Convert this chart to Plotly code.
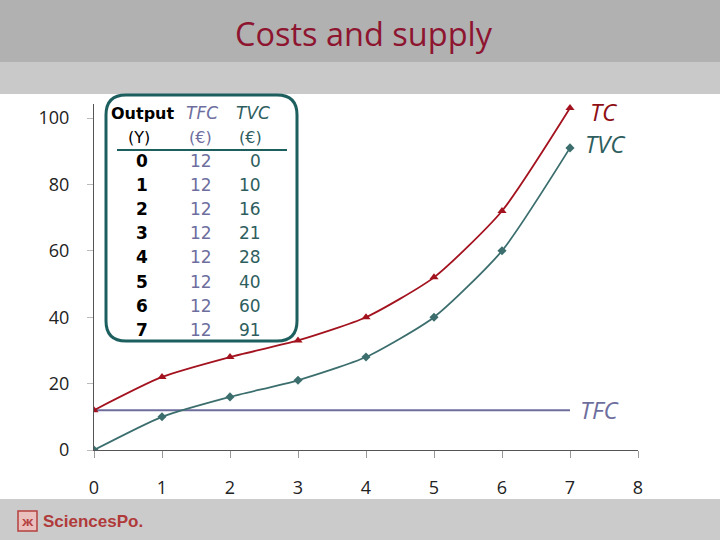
import plotly.graph_objects as go

# ---- data ----
output = [0, 1, 2, 3, 4, 5, 6, 7]
tfc = [12, 12, 12, 12, 12, 12, 12, 12]
tvc = [0, 10, 16, 21, 28, 40, 60, 91]
tc = [f + v for f, v in zip(tfc, tvc)]
x_ticks = [0, 1, 2, 3, 4, 5, 6, 7, 8]
y_ticks = [0, 20, 40, 60, 80, 100]

W, H = 720, 540
def px(x):
    return x / W
def py(y):
    return 1 - y / H

RED = "#a3131f"
TEAL = "#3c6e6e"
TEAL_T = "#2e5e5e"
LAV = "#6e6e9e"
BOXC = "#1d5f5f"
FONT = "Open Sans"
TFONT = "DejaVu Sans"

fig = go.Figure()
fig.add_trace(go.Scatter(x=output, y=tfc, mode="lines",
                         line=dict(color=LAV, width=2), hoverinfo="skip"))
fig.add_trace(go.Scatter(x=output, y=tvc, mode="lines+markers",
                         line=dict(color=TEAL, width=1.8, shape="spline", smoothing=0.6),
                         marker=dict(symbol="diamond", size=7, color=TEAL)))
fig.add_trace(go.Scatter(x=output, y=tc, mode="lines+markers",
                         line=dict(color=RED, width=1.8, shape="spline", smoothing=0.6),
                         marker=dict(symbol="triangle-up", size=8, color=RED)))

shapes = []
# background bands
shapes.append(dict(type="rect", xref="paper", yref="paper", x0=0, x1=1, y0=py(62), y1=1,
                   fillcolor="#b1b1b1", line=dict(width=0), layer="below"))
shapes.append(dict(type="rect", xref="paper", yref="paper", x0=0, x1=1, y0=py(94), y1=py(62),
                   fillcolor="#c9c9c9", line=dict(width=0), layer="below"))
shapes.append(dict(type="rect", xref="paper", yref="paper", x0=0, x1=1, y0=0, y1=py(499),
                   fillcolor="#cbcbcb", line=dict(width=0), layer="below"))

# rounded table box (pixel coordinates converted to paper)
bx0, bx1, by0, by1, r = 106, 297, 95, 341, 20
path = (f"M {px(bx0 + r)},{py(by0)} L {px(bx1 - r)},{py(by0)} "
        f"Q {px(bx1)},{py(by0)} {px(bx1)},{py(by0 + r)} "
        f"L {px(bx1)},{py(by1 - r)} Q {px(bx1)},{py(by1)} {px(bx1 - r)},{py(by1)} "
        f"L {px(bx0 + r)},{py(by1)} Q {px(bx0)},{py(by1)} {px(bx0)},{py(by1 - r)} "
        f"L {px(bx0)},{py(by0 + r)} Q {px(bx0)},{py(by0)} {px(bx0 + r)},{py(by0)} Z")
shapes.append(dict(type="path", xref="paper", yref="paper", path=path,
                   line=dict(color=BOXC, width=3), fillcolor="rgba(255,255,255,0)"))
shapes.append(dict(type="line", xref="paper", yref="paper", x0=px(117), x1=px(287),
                   y0=py(150), y1=py(150), line=dict(color=BOXC, width=2)))
# logo box
shapes.append(dict(type="rect", xref="paper", yref="paper", x0=px(18), x1=px(37),
                   y0=py(531), y1=py(511), line=dict(color="#b5403f", width=1.5),
                   fillcolor="#e9c0bd"))

ann = []
def A(x, y, text, size, color, family=FONT, xanchor="center"):
    ann.append(dict(x=px(x), y=py(y), text=text, showarrow=False, xref="paper", yref="paper",
                    xanchor=xanchor, yanchor="middle",
                    font=dict(family=family, size=size, color=color)))

A(364, 33, "Costs and supply", 32.5, "#8e1530")
A(41, 521, "<b>SciencesPo.</b>", 17, "#b03a3a",
  family="Liberation Sans Narrow, Liberation Sans", xanchor="left")
A(27.5, 521, "<b>ж</b>", 13, "#b5403f")
# table header
A(142, 113, "<b>Output</b>", 16, "black", TFONT)
A(202, 113, "<i>TFC</i>", 17, LAV, TFONT)
A(253, 113, "<i>TVC</i>", 17, TEAL_T, TFONT)
A(139, 137, "(Y)", 16, "black", TFONT)
A(200, 137, "(€)", 16, LAV, TFONT)
A(250, 137, "(€)", 16, TEAL_T, TFONT)
for i, (o, f, v) in enumerate(zip(output, tfc, tvc)):
    yy = 160.5 + 24.2 * i
    A(141.5, yy, f"<b>{o}</b>", 17, "black", TFONT)
    A(201, yy, f"{f}", 17, LAV, TFONT)
    A(263, yy, f"{v}", 17, TEAL_T, TFONT, xanchor="right")
# series labels
A(588, 112, "<i>TC</i>", 24, "#8e0f14", xanchor="left")
A(583, 144, "<i>TVC</i>", 24, TEAL_T, xanchor="left")
A(578, 409, "<i>TFC</i>", 24, LAV, xanchor="left")

fig.update_layout(
    width=W, height=H, margin=dict(l=0, r=0, t=0, b=0, autoexpand=False),
    paper_bgcolor="white", plot_bgcolor="rgba(0,0,0,0)",
    showlegend=False, shapes=shapes, annotations=ann,
    xaxis=dict(domain=[px(94), px(638)], range=[0, 8], tickvals=x_ticks,
               showgrid=False, zeroline=False, showline=True, linecolor="#555", linewidth=1,
               ticks="outside", ticklen=7, tickcolor="#999", ticklabelstandoff=14,
               tickfont=dict(family=FONT, size=18, color="#222")),
    yaxis=dict(domain=[py(450), py(104)], range=[0, (450 - 104) / 3.32], tickvals=y_ticks,
               showgrid=False, zeroline=False, showline=True, linecolor="#555", linewidth=1,
               ticks="outside", ticklen=6, tickcolor="#bbb", ticklabelstandoff=14,
               tickfont=dict(family=FONT, size=18, color="#222")),
)
fig.write_html("out.html", config={"displayModeBar": False},
               post_script="document.body.style.margin='0px';")
